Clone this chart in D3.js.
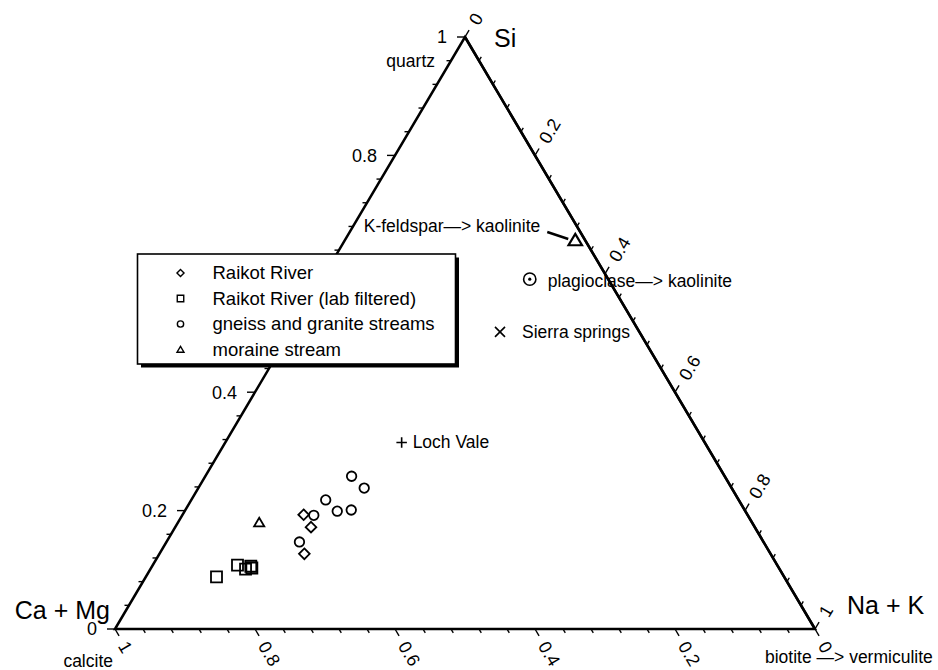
<!DOCTYPE html>
<html>
<head>
<meta charset="utf-8">
<script src="https://cdn.jsdelivr.net/npm/d3@7"></script>
<style>
body { margin: 0; background: #fff; }
svg { display: block; font-family: "Liberation Sans", Arial, Helvetica, sans-serif; }
</style>
</head>
<body>
<svg id="chart" width="938" height="670"></svg>
<script>
// compositions: [Ca+Mg, Si, Na+K]
let raikot = [[0.634, 0.193, 0.173], [0.634, 0.172, 0.194], [0.666, 0.127, 0.207]];
let raikotLab = [[0.811, 0.088, 0.101], [0.771, 0.108, 0.121], [0.763, 0.101, 0.136],
                 [0.753, 0.106, 0.141], [0.753, 0.103, 0.144]];
let gneiss = [[0.533, 0.258, 0.209], [0.525, 0.238, 0.237], [0.590, 0.218, 0.192],
              [0.583, 0.199, 0.218], [0.562, 0.201, 0.237], [0.620, 0.192, 0.188],
              [0.663, 0.147, 0.190]];
let moraine = [[0.704, 0.180, 0.116]];

let refNames = ["K-feldspar\u2014> kaolinite", "plagioclase\u2014> kaolinite", "Sierra springs", "Loch Vale"];
let refComps = [[0.014, 0.657, 0.329], [0.112, 0.591, 0.297], [0.199, 0.502, 0.299], [0.433, 0.315, 0.252]];

let legendNames = ["Raikot River", "Raikot River (lab filtered)", "gneiss and granite streams", "moraine stream"];
let tickValues = [0, 0.2, 0.4, 0.6, 0.8, 1];
let vertexNames = ["Ca + Mg", "Si", "Na + K"];
let vertexMinerals = ["calcite", "quartz", "biotite \u2014> vermiculite"];

let svg = d3.select('#chart');

let x = d3.scaleLinear().domain([0, 1]).range([115, 815]);
let y = d3.scaleLinear().domain([0, 1]).range([629, 37]);

// ternary -> screen
function proj(d) {
    let s = d[1], n = d[2];
    return [x(n + s / 2), y(s)];
}

// marker shapes
let diamond = { draw(ctx, size) { let r = Math.sqrt(size) / 1.5; ctx.moveTo(0, -r); ctx.lineTo(r, 0); ctx.lineTo(0, r); ctx.lineTo(-r, 0); ctx.closePath(); } };
let square = { draw(ctx, size) { let r = Math.sqrt(size) / 2; ctx.rect(-r, -r, 2 * r, 2 * r); } };
let circle = { draw(ctx, size) { let r = Math.sqrt(size) / 2; ctx.moveTo(r, 0); ctx.arc(0, 0, r, 0, 2 * Math.PI); } };
let tri = { draw(ctx, size) { let r = Math.sqrt(size) / 2; ctx.moveTo(0, -r); ctx.lineTo(r * 1.1, r * 0.85); ctx.lineTo(-r * 1.1, r * 0.85); ctx.closePath(); } };
let times = { draw(ctx, size) { let r = Math.sqrt(size) / 2; ctx.moveTo(-r, -r); ctx.lineTo(r, r); ctx.moveTo(r, -r); ctx.lineTo(-r, r); } };
let plus = { draw(ctx, size) { let r = Math.sqrt(size) / 2; ctx.moveTo(-r, 0); ctx.lineTo(r, 0); ctx.moveTo(0, -r); ctx.lineTo(0, r); } };

let verts = [[1, 0, 0], [0, 1, 0], [0, 0, 1]].map(proj);

// axis ticks (every 0.04, labelled every 0.2)
let L = verts[0], A = verts[1], R = verts[2];
function unit(p, q) { let dx = q[0] - p[0], dy = q[1] - p[1], l = Math.hypot(dx, dy); return [dx / l, dy / l]; }
let uBottom = unit(A, R);   // ticks on Ca+Mg axis
let uRight = unit(L, A);    // ticks on Na+K axis
let axes = [
    { at: t => proj([1 - t, t, 0]), dir: [-1, 0], rot: 0, anchor: 'end' },        // Si, left edge
    { at: t => proj([t, 0, 1 - t]), dir: uBottom, rot: Math.atan2(uBottom[1], uBottom[0]) * 180 / Math.PI, anchor: 'start' },
    { at: t => proj([0, 1 - t, t]), dir: uRight, rot: Math.atan2(uRight[1], uRight[0]) * 180 / Math.PI, anchor: 'start' }
];
let minor = d3.range(26).map(i => i / 25);

let gAxes = svg.append('g');
axes.forEach(ax => {
    gAxes.selectAll(null)
        .data(minor)
        .join('line')
        .attr('x1', t => ax.at(t)[0])
        .attr('y1', t => ax.at(t)[1])
        .attr('x2', (t, i) => ax.at(t)[0] + ax.dir[0] * (i % 5 === 0 ? 8 : 4.5))
        .attr('y2', (t, i) => ax.at(t)[1] + ax.dir[1] * (i % 5 === 0 ? 8 : 4.5))
        .attr('stroke', '#000')
        .attr('stroke-width', 1.4);
    gAxes.selectAll(null)
        .data(tickValues)
        .join('text')
        .attr('transform', t => {
            let p = ax.at(t);
            let off = ax.rot === 0 ? 18 : 16;
            return `translate(${p[0] + ax.dir[0] * off},${p[1] + ax.dir[1] * off}) rotate(${ax.rot})`;
        })
        .attr('text-anchor', ax.anchor)
        .attr('dy', '0.36em')
        .attr('font-size', 18)
        .text(t => String(t));
});

// triangle frame
svg.append('path')
    .attr('d', d3.line()(verts) + 'Z')
    .attr('fill', 'none')
    .attr('stroke', '#000')
    .attr('stroke-width', 2.5)
    .attr('stroke-linejoin', 'miter');

// vertex names
svg.append('text').attr('x', L[0] - 5).attr('y', L[1] - 10).attr('text-anchor', 'end')
    .attr('font-size', 25).text(vertexNames[0]);
svg.append('text').attr('x', A[0] + 29).attr('y', A[1] + 10)
    .attr('font-size', 25).text(vertexNames[1]);
svg.append('text').attr('x', R[0] + 32).attr('y', R[1] - 15)
    .attr('font-size', 25).text(vertexNames[2]);

// end-member minerals
svg.append('text').attr('x', L[0] - 2).attr('y', L[1] + 38).attr('text-anchor', 'end')
    .attr('font-size', 17.5).text(vertexMinerals[0]);
svg.append('text').attr('x', A[0] - 30).attr('y', A[1] + 30).attr('text-anchor', 'end')
    .attr('font-size', 17.5).text(vertexMinerals[1]);
svg.append('text').attr('x', R[0] - 50).attr('y', R[1] + 34)
    .attr('font-size', 17.5).text(vertexMinerals[2]);

// reference points
let refTypes = [tri, circle, times, plus];
let refSizes = [150, 150, 100, 110];
let gRef = svg.append('g');
refComps.forEach((d, i) => {
    let p = proj(d);
    gRef.append('path')
        .attr('transform', `translate(${p[0]},${p[1]})`)
        .attr('d', d3.symbol().type(refTypes[i]).size(refSizes[i])())
        .attr('fill', 'none')
        .attr('stroke', '#000')
        .attr('stroke-width', i === 0 ? 2.2 : 1.6);
});
let pK = proj(refComps[0]);
gRef.append('line')
    .attr('x1', pK[0] - 28).attr('y1', pK[1] - 8)
    .attr('x2', pK[0] - 7).attr('y2', pK[1] - 1)
    .attr('stroke', '#000').attr('stroke-width', 2.5);
let pP = proj(refComps[1]);
gRef.append('circle').attr('cx', pP[0]).attr('cy', pP[1]).attr('r', 1.6).attr('fill', '#000');
let refText = [[-35, -8, 'end'], [18, 8, 'start'], [22, 6, 'start'], [11, 5, 'start']];
refComps.forEach((d, i) => {
    let p = proj(d);
    gRef.append('text')
        .attr('x', p[0] + refText[i][0])
        .attr('y', p[1] + refText[i][1])
        .attr('text-anchor', refText[i][2])
        .attr('font-size', 17.5)
        .text(refNames[i]);
});

// redraw right edge over the plagioclase label
svg.append('line')
    .attr('x1', A[0]).attr('y1', A[1]).attr('x2', R[0]).attr('y2', R[1])
    .attr('stroke', '#000').attr('stroke-width', 2.5);

// data series
let series = [
    { data: raikot, type: diamond, size: 64 },
    { data: raikotLab, type: square, size: 121 },
    { data: gneiss, type: circle, size: 90 },
    { data: moraine, type: tri, size: 85 }
];
series.forEach(sr => {
    svg.append('g')
        .selectAll('path')
        .data(sr.data)
        .join('path')
        .attr('transform', d => `translate(${proj(d)[0]},${proj(d)[1]})`)
        .attr('d', d3.symbol().type(sr.type).size(sr.size))
        .attr('fill', 'none')
        .attr('stroke', '#000')
        .attr('stroke-width', 1.8);
});

// legend
let lg = svg.append('g').attr('transform', 'translate(137.5,254)');
lg.append('rect').attr('x', 3.5).attr('y', 3.5).attr('width', 318).attr('height', 110).attr('fill', '#000');
lg.append('rect').attr('x', 0).attr('y', 0).attr('width', 318).attr('height', 110)
    .attr('fill', '#fff').attr('stroke', '#000').attr('stroke-width', 1.6);
let legendSizes = [28, 42, 40, 40];
series.forEach((sr, i) => {
    let yy = 19 + i * 25.5;
    lg.append('path')
        .attr('transform', `translate(43,${yy})`)
        .attr('d', d3.symbol().type(sr.type).size(legendSizes[i])())
        .attr('fill', 'none')
        .attr('stroke', '#000')
        .attr('stroke-width', 1.4);
    lg.append('text')
        .attr('x', 75)
        .attr('y', yy)
        .attr('dy', '0.35em')
        .attr('font-size', 18.5)
        .text(legendNames[i]);
});
</script>
</body>
</html>
